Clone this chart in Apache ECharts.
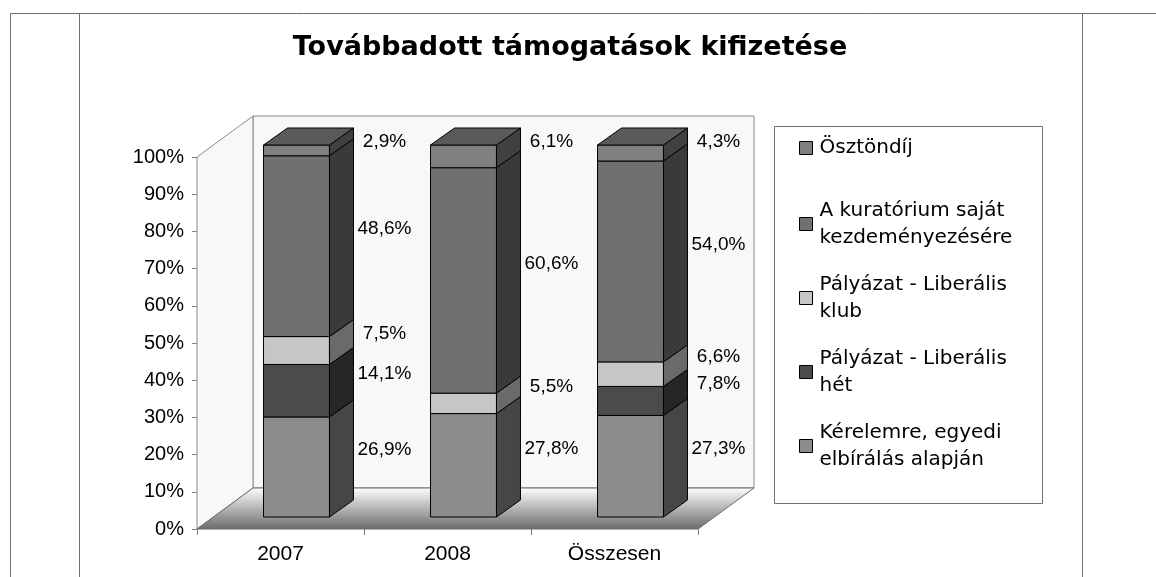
<!DOCTYPE html>
<html>
<head>
<meta charset="utf-8">
<script src="https://cdn.jsdelivr.net/npm/echarts@6/dist/echarts.min.js"></script>
<style>
  html, body { margin: 0; padding: 0; background: #fff; }
  #chart { width: 1156px; height: 577px; }
</style>
</head>
<body>
<div id="chart"></div>
<script>
// adatok
var categories = ['2007', '2008', 'Összesen'];
var seriesNames = [
    'Kérelemre, egyedi\nelbírálás alapján',
    'Pályázat - Liberális\nhét',
    'Pályázat - Liberális\nklub',
    'A kuratórium saját\nkezdeményezésére',
    'Ösztöndíj'
];
var kerelemre = [26.9, 27.8, 27.3];
var liberalisHet = [14.1, 0, 7.8];
var liberalisKlub = [7.5, 5.5, 6.6];
var kuratorium = [48.6, 60.6, 54.0];
var osztondij = [2.9, 6.1, 4.3];
var yTicks = [0, 10, 20, 30, 40, 50, 60, 70, 80, 90, 100];

// színek (elülső, oldalsó, felső lap)
var frontColors = ['#8c8c8c', '#4b4b4b', '#c6c6c6', '#707070', '#808080'];
var sideColors = ['#464646', '#262626', '#6a6a6a', '#3a3a3a', '#404040'];
var topColor = '#5a5a5a';

// 3D eltolások (px)
var WALL = [56, -41];
var BAR_SHIFT = [16, -12];
var BAR_DEPTH = [24, -17];

var stackValues = [kerelemre, liberalisHet, liberalisKlub, kuratorium, osztondij];
var totals = categories.map(function () { return 0; });
var stackedData = stackValues.map(function (vals) {
    return vals.map(function (v, i) {
        var lo = totals[i];
        totals[i] += v;
        return [i, lo, lo + v, v];
    });
});

function fmt(v) {
    return v.toFixed(1).replace('.', ',') + '%';
}

function boxRenderer(k) {
    return function (params, api) {
        var i = api.value(0), lo = api.value(1), hi = api.value(2), v = api.value(3);
        if (!(v > 0)) return null;
        var a = api.coord([i, lo]);
        var b = api.coord([i, hi]);
        var bw = api.size([1, 0])[0] * 0.395;
        var x0 = a[0] - bw / 2 + BAR_SHIFT[0];
        var x1 = x0 + bw;
        var yb = a[1] + BAR_SHIFT[1];
        var yt = b[1] + BAR_SHIFT[1];
        var dx = BAR_DEPTH[0], dy = BAR_DEPTH[1];
        var isTop = Math.abs(hi - totals[i]) < 1e-6;
        var children = [
            {
                type: 'polygon',
                shape: { points: [[x0, yb], [x1, yb], [x1, yt], [x0, yt]] },
                style: { fill: frontColors[k], stroke: '#000', lineWidth: 1 }
            },
            {
                type: 'polygon',
                shape: { points: [[x1, yb], [x1 + dx, yb + dy], [x1 + dx, yt + dy], [x1, yt]] },
                style: { fill: sideColors[k], stroke: '#000', lineWidth: 1 }
            }
        ];
        if (isTop) {
            children.push({
                type: 'polygon',
                shape: { points: [[x0, yt], [x1, yt], [x1 + dx, yt + dy], [x0 + dx, yt + dy]] },
                style: { fill: topColor, stroke: '#000', lineWidth: 1 }
            });
        }
        // a legfelső címke nem csúszhat a doboz teteje fölé
        var ly = (yb + yt) / 2 + dy;
        if (isTop) ly = Math.max(ly, yt - 3);
        children.push({
            type: 'text',
            style: {
                text: fmt(v),
                x: x1 + dx + 31,
                y: ly,
                align: 'center',
                verticalAlign: 'middle',
                font: '19px "Liberation Sans", Arial, sans-serif',
                fill: '#000'
            }
        });
        return { type: 'group', children: children };
    };
}

// falak és padló
function renderWalls(params, api) {
    var cs = params.coordSys;
    var x = cs.x, y = cs.y, w = cs.width, h = cs.height;
    var dx = WALL[0], dy = WALL[1];
    return {
        type: 'group',
        children: [
            {
                type: 'polygon',
                shape: { points: [[x + dx, y + dy], [x + w + dx, y + dy], [x + w + dx, y + h + dy], [x + dx, y + h + dy]] },
                style: { fill: '#f8f8f8', stroke: '#8a8a8a', lineWidth: 1 }
            },
            {
                type: 'polygon',
                shape: { points: [[x, y], [x + dx, y + dy], [x + dx, y + h + dy], [x, y + h]] },
                style: { fill: '#f8f8f8', stroke: '#8a8a8a', lineWidth: 1 }
            },
            {
                type: 'polygon',
                shape: { points: [[x, y + h], [x + w, y + h], [x + w + dx, y + h + dy], [x + dx, y + h + dy]] },
                style: {
                    fill: new echarts.graphic.LinearGradient(0, 0, 0, 1, [
                        { offset: 0, color: '#ffffff' },
                        { offset: 1, color: '#6a6a6a' }
                    ]),
                    stroke: '#6a6a6a',
                    lineWidth: 1
                }
            }
        ]
    };
}

var legendMarks = [148, 224, 298, 372, 446];
var legendOrder = seriesNames.slice().reverse();

var chart = echarts.init(document.getElementById('chart'));

var series = [{
    type: 'custom',
    name: 'walls',
    data: [[0, 0]],
    renderItem: renderWalls,
    silent: true,
    z: 1
}];
stackedData.forEach(function (d, k) {
    series.push({
        type: 'custom',
        name: seriesNames[k],
        data: d,
        renderItem: boxRenderer(k),
        itemStyle: { color: frontColors[k] },
        silent: true,
        z: 3
    });
});

var options = {
    animation: false,
    title: {
        text: 'Továbbadott támogatások kifizetése',
        left: 570,
        top: 34,
        textAlign: 'center',
        padding: 0,
        textStyle: {
            fontFamily: 'DejaVu Sans',
            fontSize: 27,
            fontWeight: 'bold',
            color: '#000'
        }
    },
    legend: legendOrder.map(function (name, k) {
        var two = name.indexOf('\n') >= 0;
        return {
            data: [name],
            left: 799,
            top: legendMarks[k] - (two ? 40.5 : 13.5),
            orient: 'vertical',
            padding: 0,
            itemWidth: 13,
            itemHeight: 13,
            icon: 'rect',
            selectedMode: false,
            itemStyle: { borderColor: '#000', borderWidth: 1 },
            textStyle: {
                fontFamily: 'DejaVu Sans',
                fontSize: 20,
                lineHeight: 27,
                color: '#000',
                padding: two ? [27, 0, 0, 2] : [0, 0, 0, 2]
            }
        };
    }),
    grid: {
        left: 197,
        top: 157,
        width: 501,
        height: 372,
        containLabel: false
    },
    xAxis: {
        type: 'category',
        data: categories,
        axisLine: { show: false },
        axisTick: { show: true, alignWithLabel: false, length: 6, lineStyle: { color: '#808080' } },
        axisLabel: {
            margin: 15,
            fontFamily: 'Liberation Sans',
            fontSize: 21,
            color: '#000'
        },
        splitLine: { show: false }
    },
    yAxis: {
        type: 'value',
        min: yTicks[0],
        max: yTicks[yTicks.length - 1],
        interval: yTicks[1] - yTicks[0],
        axisLine: { show: false },
        axisTick: { show: true, length: 5, lineStyle: { color: '#808080' } },
        axisLabel: {
            formatter: '{value}%',
            margin: 13,
            fontFamily: 'Liberation Sans',
            fontSize: 20,
            color: '#000'
        },
        splitLine: { show: false }
    },
    graphic: [
        { type: 'line', shape: { x1: 10, y1: 13.5, x2: 1156, y2: 13.5 }, style: { stroke: '#707070', lineWidth: 1 } },
        { type: 'line', shape: { x1: 10.5, y1: 13, x2: 10.5, y2: 577 }, style: { stroke: '#707070', lineWidth: 1 } },
        { type: 'line', shape: { x1: 79.5, y1: 13, x2: 79.5, y2: 577 }, style: { stroke: '#707070', lineWidth: 1 } },
        { type: 'line', shape: { x1: 1082.5, y1: 13, x2: 1082.5, y2: 577 }, style: { stroke: '#707070', lineWidth: 1 } },
        { type: 'rect', shape: { x: 774.5, y: 126.5, width: 268, height: 377 }, style: { fill: 'none', stroke: '#707070', lineWidth: 1 } }
    ],
    series: series
};

chart.setOption(options);
</script>
</body>
</html>
